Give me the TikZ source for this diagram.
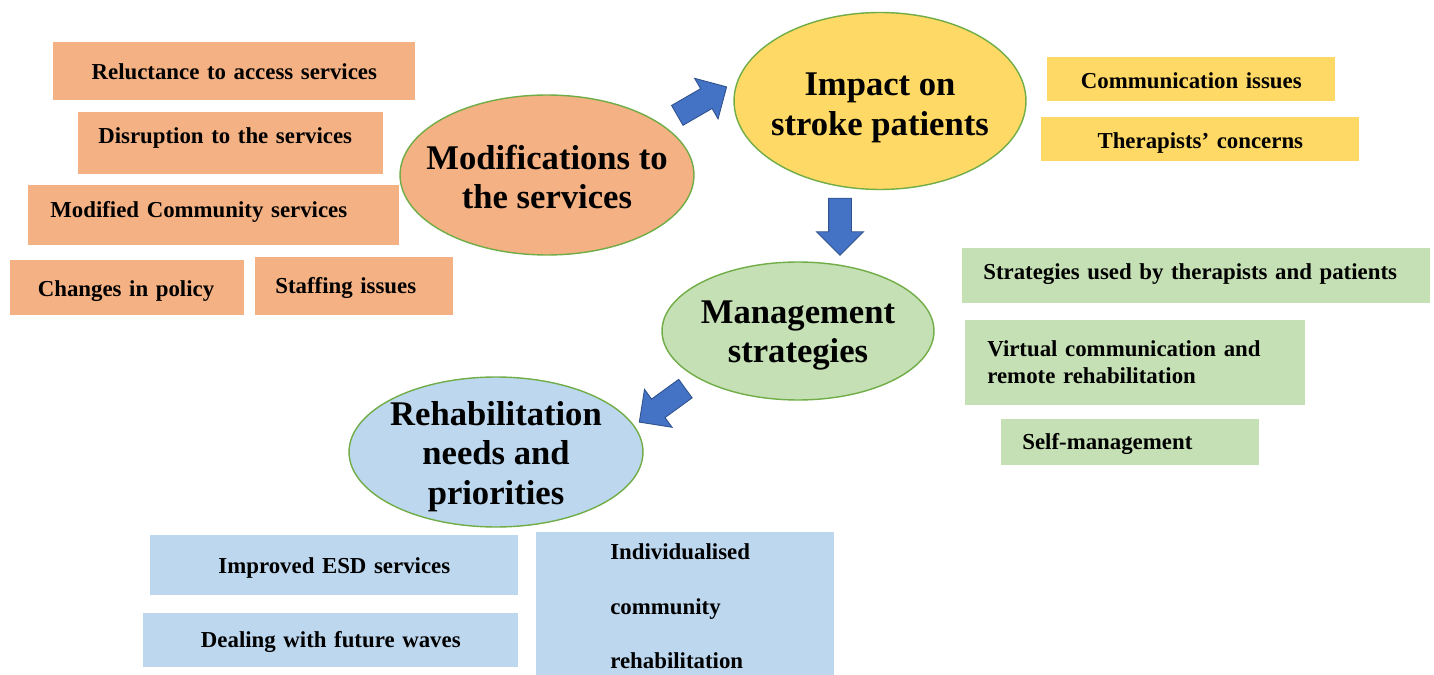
\documentclass[tikz,border=0pt]{standalone}
\usepackage{fontspec}
\setmainfont{Liberation Serif}
\usetikzlibrary{shapes.geometric,shapes.arrows}
\definecolor{orangec}{HTML}{F4B183}
\definecolor{yellowc}{HTML}{FFD966}
\definecolor{greenc}{HTML}{C5E0B4}
\definecolor{bluec}{HTML}{BDD7EE}
\definecolor{ringc}{HTML}{70AD47}
\definecolor{arrowc}{HTML}{4472C4}
\definecolor{arrowedge}{HTML}{2F528F}
\tikzstyle{theme} = [ellipse, draw=ringc, line width=0.8pt]
\tikzstyle{themetext} = [align=center, font=\fontsize{19.7}{22.4}\selectfont\bfseries]
\tikzstyle{code} = [
  rectangle,
  anchor=north west,
  inner ysep=0pt,
  font=\fontsize{13}{15.3}\selectfont\bfseries,
]
\tikzstyle{blockarrow} = [
  single arrow,
  fill=arrowc,
  draw=arrowedge,
  line width=0.5pt,
  inner sep=0.22cm,
  single arrow head extend=0.24cm,
  minimum height=1.14cm,
]

\begin{document}
\begin{tikzpicture}[x=0.02cm, y=-0.02cm]
      \useasboundingbox (0,0) rectangle (1434,675);

      % Themes
      \node[theme, fill=orangec, minimum width=5.88cm, minimum height=3.2cm] (mods) at (547,175) {};
      \node[theme, fill=yellowc, minimum width=5.84cm, minimum height=3.54cm] (impact) at (880,101) {};
      \node[theme, fill=greenc, minimum width=5.44cm, minimum height=2.76cm] (manage) at (798,331) {};
      \node[theme, fill=bluec, minimum width=5.88cm, minimum height=3.0cm] (rehab) at (496,452) {};

      \node[themetext] at ([yshift=-1pt]mods.center) {Modifications to\\the services};
      \node[themetext] at ([yshift=-4pt]impact.center) {Impact on\\stroke patients};
      \node[themetext] at ([yshift=-2.5pt]manage.center) {Management\\strategies};
      \node[themetext] at ([yshift=-2.5pt]rehab.center) {Rehabilitation\\needs and\\priorities};

      % Arrows between themes
      \node[blockarrow, rotate=30] (a1) at (697,104) {};
      \node[blockarrow, rotate=-90] (a2) at (840,221) {};
      \node[blockarrow, rotate=216] (a3) at (667,402) {};

      % Codes: modifications to the services
      \node[code, fill=orangec, align=center, inner xsep=0pt, text width=7.24cm, text height=.74cm, text depth=.42cm] (reluct) at (53,42) {Reluctance to access services};
      \node[code, fill=orangec, align=left, inner xsep=.4cm, text width=5.3cm, text height=.62cm, text depth=.62cm] (disrupt) at (78,112) {Disruption to the services};
      \node[code, fill=orangec, align=left, inner xsep=.44cm, text width=6.54cm, text height=.64cm, text depth=.56cm] (modcom) at (28,185) {Modified Community services};
      \node[code, fill=orangec, align=left, inner xsep=.55cm, text width=3.58cm, text height=.72cm, text depth=.38cm] (policy) at (10,260) {Changes in policy};
      \node[code, fill=orangec, align=left, inner xsep=.4cm, text width=3.16cm, text height=.72cm, text depth=.44cm] (staff) at (255,257) {Staffing issues};

      % Codes: impact on stroke patients
      \node[code, fill=yellowc, align=center, inner xsep=0pt, text width=5.76cm, text height=.62cm, text depth=.26cm] (commun) at (1047,57) {Communication issues};
      \node[code, fill=yellowc, align=center, inner xsep=0pt, text width=6.36cm, text height=.62cm, text depth=.26cm] (concern) at (1041,117) {Therapists’ concerns};

      % Codes: management strategies
      \node[code, fill=greenc, align=left, inner xsep=.42cm, text width=8.52cm, text height=.62cm, text depth=.48cm] (strat) at (962,248) {Strategies used by therapists and patients};
      \node[code, fill=greenc, align=left, inner xsep=.44cm, text width=5.92cm, text height=.72cm, text depth=.98cm] (virtual) at (965,320) {Virtual communication and\\remote rehabilitation};
      \node[code, fill=greenc, align=left, inner xsep=.42cm, text width=4.32cm, text height=.6cm, text depth=.32cm] (selfman) at (1001,419) {Self-management};

      % Codes: rehabilitation needs and priorities
      \node[code, fill=bluec, align=center, inner xsep=0pt, text width=7.36cm, text height=.76cm, text depth=.44cm] (esd) at (150,535) {Improved ESD services};
      \node[code, fill=bluec, align=center, inner xsep=0pt, text width=7.5cm, text height=.68cm, text depth=.4cm] (waves) at (143,613) {Dealing with future waves};
      \node[code, fill=bluec, align=left, inner xsep=1.48cm, text width=3.0cm, text height=.54cm, text depth=2.32cm] (indiv) at (536,532) {Individualised\\[15.9pt]community\\[15.9pt]rehabilitation};
    \end{tikzpicture}
\end{document}
